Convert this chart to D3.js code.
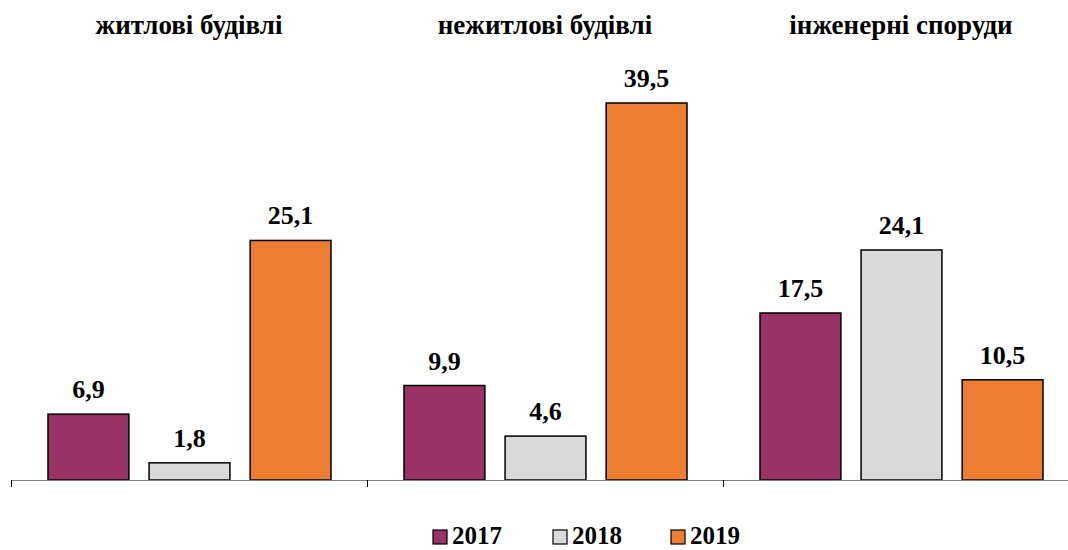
<!DOCTYPE html>
<html lang="uk">
<head>
    <meta charset="UTF-8">
    <title>Будівлі</title>
    <script src="https://d3js.org/d3.v7.min.js"></script>
    <style>
        body { margin: 0; padding: 0; background: #fff; overflow: hidden; }
        svg { display: block; }
        .title, .label, .legend text {
            font-family: "Liberation Serif", "Times New Roman", serif;
            font-weight: bold;
            fill: #000;
        }
    </style>
</head>
<body>
    <svg id="chart"></svg>
    <script>
        // Data
        const categories = ["житлові будівлі", "нежитлові будівлі", "інженерні споруди"];
        const years = ["2017", "2018", "2019"];
        const values2017 = [6.9, 9.9, 17.5];
        const values2018 = [1.8, 4.6, 24.1];
        const values2019 = [25.1, 39.5, 10.5];
        const colors = ["#993366", "#D9D9D9", "#ED7D31"];

        const series = [values2017, values2018, values2019];

        const width = 1068, height = 550;
        const svg = d3.select("#chart").attr("width", width).attr("height", height);

        const baseY = 480;

        // group scale: each category gets ~356px
        const x0 = d3.scaleBand()
            .domain(categories)
            .range([11, 1079])
            .paddingInner(0)
            .paddingOuter(0);

        const x1 = d3.scaleBand()
            .domain(years)
            .range([37, x0.bandwidth() - 36])
            .paddingInner(0.2)
            .paddingOuter(0);

        const y = d3.scaleLinear()
            .domain([0, 39.5])
            .range([baseY, 103]);

        // bars
        const groups = svg.selectAll(".group")
            .data(categories)
            .enter().append("g")
            .attr("class", "group")
            .attr("transform", d => `translate(${x0(d)},0)`);

        groups.selectAll("rect")
            .data((c, ci) => years.map((yr, si) => ({ yr, v: series[si][ci], si })))
            .enter().append("rect")
            .attr("x", d => x1(d.yr))
            .attr("y", d => y(d.v))
            .attr("width", x1.bandwidth())
            .attr("height", d => baseY - y(d.v))
            .attr("fill", d => colors[d.si])
            .attr("stroke", "#000")
            .attr("stroke-width", 1.5);

        groups.selectAll(".label")
            .data((c, ci) => years.map((yr, si) => ({ yr, v: series[si][ci], si })))
            .enter().append("text")
            .attr("class", "label")
            .attr("x", d => x1(d.yr) + x1.bandwidth() / 2)
            .attr("y", d => y(d.v) - 16)
            .attr("text-anchor", "middle")
            .attr("font-size", 26)
            .text(d => d.v.toFixed(1).replace(".", ","));

        // category titles
        groups.append("text")
            .attr("class", "title")
            .attr("x", x0.bandwidth() / 2)
            .attr("y", 34)
            .attr("text-anchor", "middle")
            .attr("font-size", 27)
            .text(d => d);

        // axis line and ticks
        svg.append("line")
            .attr("x1", 11).attr("x2", width)
            .attr("y1", baseY + 0.5).attr("y2", baseY + 0.5)
            .attr("stroke", "#7f7f7f").attr("stroke-width", 1);

        svg.selectAll(".tick")
            .data(categories.concat(["end"]))
            .enter().append("line")
            .attr("x1", (d, i) => (i < categories.length ? x0(d) : 1079) + 0.5)
            .attr("x2", (d, i) => (i < categories.length ? x0(d) : 1079) + 0.5)
            .attr("y1", baseY).attr("y2", baseY + 7)
            .attr("stroke", "#000").attr("stroke-width", 1);

        // legend
        const legendX = [433, 553, 671];
        const legend = svg.selectAll(".legend")
            .data(years)
            .enter().append("g")
            .attr("class", "legend")
            .attr("transform", (d, i) => `translate(${legendX[i]},530)`);

        legend.append("rect")
            .attr("width", 14).attr("height", 14)
            .attr("fill", (d, i) => colors[i])
            .attr("stroke", "#000").attr("stroke-width", 1.2);

        legend.append("text")
            .attr("x", 19)
            .attr("y", 14)
            .attr("font-size", 25)
            .text(d => d);
    </script>
</body>
</html>
